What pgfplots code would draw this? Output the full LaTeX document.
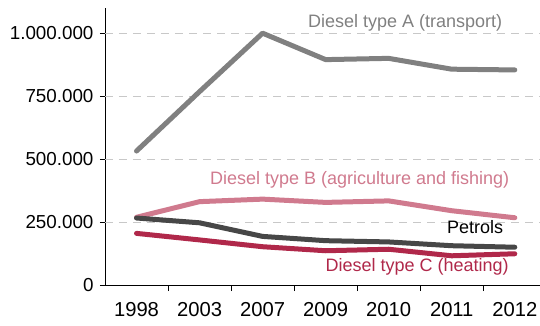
\documentclass[border=0pt]{standalone}
\usepackage{fontspec}
\setmainfont{Liberation Sans}
\usepackage{pgfplots}
\pgfplotsset{compat=1.18}
\definecolor{dieselA}{HTML}{808080}
\definecolor{dieselB}{HTML}{D07A8E}
\definecolor{petrols}{HTML}{474747}
\definecolor{dieselC}{HTML}{B0284A}
\definecolor{gridc}{HTML}{C8C8C8}
\begin{document}
\begin{tikzpicture}
\begin{axis}[
  scale only axis,
  width=435pt, height=277pt,
  xmin=-0.5, xmax=6.4,
  ymin=0, ymax=1100000,
  axis x line*=bottom, axis y line*=left,
  axis line style={-, black, line width=0.9pt},
  xtick={0,1,2,3,4,5,6},
  xticklabels={1998,2003,2007,2009,2010,2011,2012},
  minor xtick={0.5,1.5,2.5,3.5,4.5,5.5},
  major x tick style={draw=none},
  minor x tick style={black, line width=0.9pt},
  minor tick length=6pt,
  ytick={0,250000,500000,750000,1000000},
  yticklabels={0,250.000,500.000,750.000,1.000.000},
  major y tick style={black, line width=0.9pt},
  major tick length=5pt,
  tick align=outside,
  ymajorgrids=false,
  xticklabel style={font=\fontsize{20.2}{22}\selectfont, yshift=-9pt},
  yticklabel style={font=\fontsize{18.8}{20}\selectfont, xshift=-3pt},
  scaled y ticks=false,
  clip=false,
]
% grid lines
\foreach \v in {250000,500000,750000,1000000}{
  \edef\tmp{\noexpand\draw[gridc, line width=0.8pt, dash pattern=on 8pt off 6pt] (axis cs:-0.5,\v) -- (axis cs:6.4,\v);}
  \tmp
}
\addplot[dieselA, line width=5pt, line cap=round, line join=round] coordinates {
 (0,532000) (1,768000) (2,1000000) (3,895000) (4,900000) (5,857000) (6,854000)};
\addplot[dieselB, line width=5pt, line cap=round, line join=round] coordinates {
 (0,269000) (1,331000) (2,341000) (3,328000) (4,334000) (5,295000) (6,267000)};
\addplot[petrols, line width=5pt, line cap=round, line join=round] coordinates {
 (0,266000) (1,247000) (2,193000) (3,176000) (4,171000) (5,156000) (6,150000)};
\addplot[dieselC, line width=5pt, line cap=round, line join=round] coordinates {
 (0,205000) (1,179000) (2,152000) (3,136000) (4,142000) (5,116000) (6,124000)};
\node[dieselA, font=\fontsize{18}{20}\selectfont] at (axis cs:4.26,1040000) {Diesel type A (transport)};
\node[dieselB, font=\fontsize{18}{20}\selectfont] at (axis cs:3.54,416700) {Diesel type B (agriculture and fishing)};
\node[black, font=\fontsize{18}{20}\selectfont] at (axis cs:5.37,231000) {Petrols};
\node[dieselC, font=\fontsize{18}{20}\selectfont] at (axis cs:4.45,72600) {Diesel type C (heating)};
\end{axis}
\pgfresetboundingbox
\path[use as bounding box] (current axis.south west) ++(-105pt,-41pt) rectangle ++(540pt,326pt);
\end{tikzpicture}
\end{document}
